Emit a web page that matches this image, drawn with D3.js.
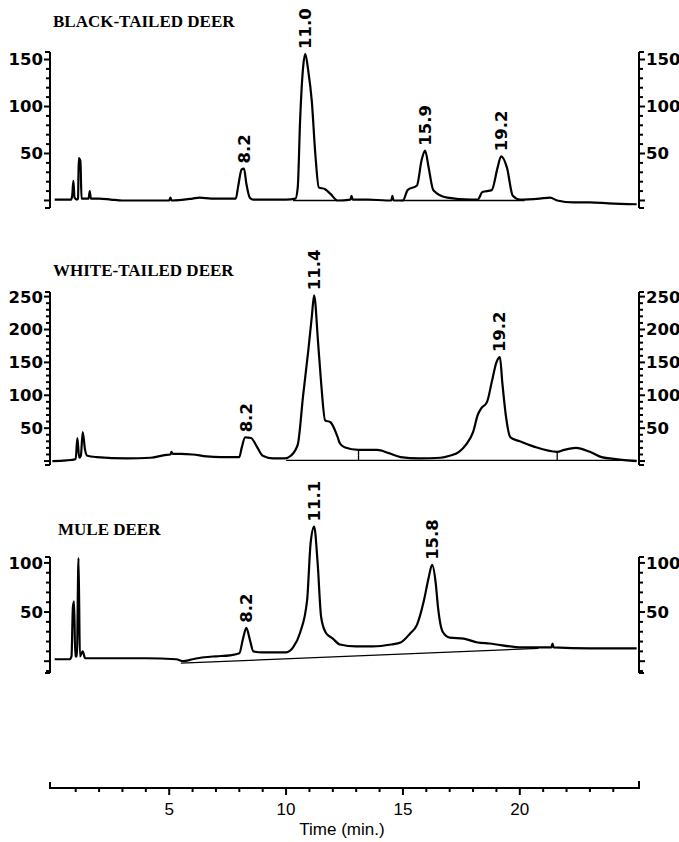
<!DOCTYPE html>
<html lang="en">
<head>
  <meta charset="UTF-8" />
  <title>Deer chromatograms</title>
  <script src="https://d3js.org/d3.v7.min.js"></script>
  <style>
    body {
      margin: 0;
      padding: 0;
      background: white;
    }

    .trace {
      fill: none;
      stroke: black;
      stroke-width: 2.2px;
      stroke-linejoin: round;
    }

    .base-line {
      fill: none;
      stroke: black;
      stroke-width: 1.3px;
    }

    .axis-line, .tick-mark {
      stroke: black;
      stroke-width: 2px;
      fill: none;
    }

    .panel-title {
      font-family: "Liberation Serif", "Times New Roman", serif;
      font-weight: bold;
      font-size: 17px;
    }

    .y-label, .peak-label {
      font-family: "DejaVu Sans", sans-serif;
      font-weight: bold;
      font-size: 16.5px;
    }

    .x-label {
      font-family: "Liberation Sans", Arial, sans-serif;
      font-size: 17px;
    }
  </style>
</head>
<body>
  <svg id="chart" width="679" height="842"></svg>

  <script>
    // time axis
    const timeMajor = [5, 10, 15, 20];
    const timeMinor = d3.range(1, 25);

    // BLACK-TAILED DEER
    const btTime = [0.1, 0.8, 0.85, 0.9, 0.95, 1.05, 1.1, 1.13, 1.2, 1.25, 1.55, 1.6, 1.65, 2.0, 2.5, 3.0,
      5.0, 5.05, 5.1, 6.0, 6.3, 6.8, 7.5, 7.85, 7.95, 8.1, 8.2, 8.3, 8.45, 8.6, 9.0, 10.0, 10.4,
      10.5, 10.6, 10.73, 10.82, 10.95, 11.1, 11.25, 11.4, 11.67, 11.9, 12.2, 12.75, 12.8, 12.85,
      13.5, 14.3, 14.5, 14.55, 14.6, 15.0, 15.2, 15.6, 15.8, 15.95, 16.1, 16.3, 16.9, 17.9, 18.2,
      18.4, 18.8, 19.05, 19.2, 19.45, 19.7, 20.0, 20.85, 21.3, 21.6, 22.3, 23.0, 23.8, 25.0];
    const btSignal = [1, 1, 5, 21, 3, 1, 2, 45, 42, 2, 2, 10, 2, 2, 1, 0,
      0, 3, 0, 2, 3, 2, 2, 2, 15, 33, 34, 18, 3, 1, 1, 1, 2,
      14, 85, 142, 156, 138, 106, 50, 14, 12, 7, 0, 1, 5, 1,
      1, 0, 0, 5, 0, 0, 11, 16, 43, 53, 35, 11, 3, 1, 1,
      9, 11, 35, 47, 35, 5, 1, 2, 3, 0, -2, -2, -3, -4];
    const btBaseStart = [10.3, 14.9];
    const btBaseEnd = [12.2, 20.2];
    const btBaseValue = [0, 0];
    const btPeakTime = [8.2, 10.82, 15.95, 19.2];
    const btPeakValue = [34, 156, 53, 47];
    const btPeakLabel = ["8.2", "11.0", "15.9", "19.2"];
    const btYLabels = [50, 100, 150];

    // WHITE-TAILED DEER
    const wtTime = [0.0, 0.6, 1.0, 1.07, 1.15, 1.22, 1.3, 1.4, 1.5, 1.9, 3.2, 4.2, 4.8, 5.05, 5.1, 5.15, 5.5,
      6.0, 6.6, 7.2, 8.0, 8.1, 8.25, 8.5, 8.75, 9.0, 9.45, 9.95, 10.2, 10.5, 10.73, 10.95, 11.1,
      11.2, 11.37, 11.5, 11.67, 11.9, 12.2, 12.3, 12.5, 13.1, 13.9, 14.4, 14.9, 15.7, 16.6, 17.0,
      17.4, 17.7, 18.0, 18.2, 18.35, 18.6, 18.8, 19.0, 19.15, 19.25, 19.4, 19.6, 20.0, 20.6, 21.6,
      21.9, 22.4, 23.0, 23.5, 24.1, 25.0];
    const wtSignal = [0, 1, 3, 35, 5, 8, 44, 17, 8, 6, 4, 5, 9, 10, 14, 11, 11,
      10, 7, 6, 6, 20, 36, 35, 22, 8, 4, 4, 8, 25, 100, 168, 219,
      252, 180, 119, 62, 59, 37, 27, 21, 17, 17, 12, 6, 4, 5, 8,
      14, 25, 44, 70, 80, 90, 120, 150, 158, 120, 70, 36, 30, 22, 14,
      17, 20, 14, 6, 3, 0];
    const wtBaseStart = [10.0];
    const wtBaseEnd = [25.0];
    const wtBaseValue = [1];
    const wtDropTime = [13.1, 21.6];
    const wtPeakTime = [8.3, 11.2, 19.1];
    const wtPeakValue = [36, 252, 158];
    const wtPeakLabel = ["8.2", "11.4", "19.2"];
    const wtYLabels = [50, 100, 150, 200, 250];

    // MULE DEER
    const mdTime = [0.1, 0.75, 0.82, 0.88, 0.93, 0.98, 1.05, 1.12, 1.18, 1.3, 1.4, 2.0, 4.0, 5.3, 5.6,
      6.0, 6.5, 7.0, 7.6, 8.0, 8.15, 8.3, 8.45, 8.6, 9.0, 9.5, 10.0, 10.3, 10.6, 10.9, 11.05,
      11.2, 11.35, 11.5, 11.7, 12.0, 12.3, 13.0, 13.7, 14.5, 14.9, 15.3, 15.6, 15.9, 16.1, 16.25,
      16.4, 16.5, 16.7, 17.0, 17.6, 18.2, 18.7, 20.1, 21.35, 21.4, 21.45, 23.0, 25.0];
    const mdSignal = [2, 2, 5, 55, 61, 5, 5, 105, 5, 10, 3, 3, 3, 2, 0,
      2, 4, 5, 6, 8, 22, 34, 22, 10, 9, 9, 9, 14, 29, 62, 120,
      137, 100, 45, 29, 23, 17, 15, 15, 17, 19, 28, 37, 62, 85, 98,
      80, 55, 30, 24, 23, 19, 18, 14, 14, 18, 14, 13, 13];
    const mdBaseStart = [5.5];
    const mdBaseEnd = [20.8];
    const mdBaseStartValue = [-2];
    const mdBaseEndValue = [13];
    const mdPeakTime = [8.3, 11.2, 16.25];
    const mdPeakValue = [34, 137, 98];
    const mdPeakLabel = ["8.2", "11.1", "15.8"];
    const mdYLabels = [50, 100];

    const svg = d3.select("#chart");

    const x = d3.scaleLinear().domain([-0.1, 25.1]).range([50, 639]);

    // panels, built from the arrays above
    const panels = [
      {
        title: "BLACK-TAILED DEER", titleX: 53, titleY: 27,
        yDomain: [-8, 158], yRange: [208, 52],
        time: btTime, signal: btSignal,
        bases: btBaseStart.map((s, i) => [[s, btBaseValue[i]], [btBaseEnd[i], btBaseValue[i]]]),
        drops: [],
        peaks: btPeakTime.map((t, i) => ({ t, v: btPeakValue[i], label: btPeakLabel[i] })),
        labels: btYLabels
      },
      {
        title: "WHITE-TAILED DEER", titleX: 53, titleY: 276,
        yDomain: [-6, 257], yRange: [465, 292],
        time: wtTime, signal: wtSignal,
        bases: wtBaseStart.map((s, i) => [[s, wtBaseValue[i]], [wtBaseEnd[i], wtBaseValue[i]]]),
        drops: wtDropTime,
        peaks: wtPeakTime.map((t, i) => ({ t, v: wtPeakValue[i], label: wtPeakLabel[i] })),
        labels: wtYLabels
      },
      {
        title: "MULE DEER", titleX: 58, titleY: 535,
        yDomain: [-12, 106], yRange: [673, 557],
        time: mdTime, signal: mdSignal,
        bases: mdBaseStart.map((s, i) => [[s, mdBaseStartValue[i]], [mdBaseEnd[i], mdBaseEndValue[i]]]),
        drops: [],
        peaks: mdPeakTime.map((t, i) => ({ t, v: mdPeakValue[i], label: mdPeakLabel[i] })),
        labels: mdYLabels
      }
    ];

    panels.forEach(p => {
      const y = d3.scaleLinear().domain(p.yDomain).range(p.yRange);
      const g = svg.append("g");
      const xl = x.range()[0], xr = x.range()[1];

      g.append("text")
        .attr("class", "panel-title")
        .attr("x", p.titleX)
        .attr("y", p.titleY)
        .text(p.title);

      // y axes on both sides
      const tickVals = d3.range(-10, p.yDomain[1] + 1, 10).filter(v => v >= p.yDomain[0]);
      [{ x0: xl, dir: -1 }, { x0: xr, dir: 1 }].forEach(side => {
        g.append("line")
          .attr("class", "axis-line")
          .attr("x1", side.x0).attr("x2", side.x0)
          .attr("y1", y(p.yDomain[1])).attr("y2", y(p.yDomain[0]));

        g.selectAll(null)
          .data(tickVals)
          .join("line")
          .attr("class", "tick-mark")
          .attr("x1", side.x0)
          .attr("x2", d => side.x0 + side.dir * (d % 50 === 0 ? 6 : 4))
          .attr("y1", d => y(d))
          .attr("y2", d => y(d));

        // hooks at the ends
        [p.yDomain[0], p.yDomain[1]].forEach(v => {
          g.append("line")
            .attr("class", "tick-mark")
            .attr("x1", side.x0).attr("x2", side.x0 + side.dir * 5)
            .attr("y1", y(v)).attr("y2", y(v));
        });

        g.selectAll(null)
          .data(p.labels)
          .join("text")
          .attr("class", "y-label")
          .attr("x", side.x0 + side.dir * 7)
          .attr("y", d => y(d))
          .attr("dy", "0.36em")
          .attr("text-anchor", side.dir < 0 ? "end" : "start")
          .text(d => d);
      });

      // integration baselines
      g.selectAll(null)
        .data(p.bases)
        .join("path")
        .attr("class", "base-line")
        .attr("d", d3.line().x(d => x(d[0])).y(d => y(d[1])));

      g.selectAll(null)
        .data(p.drops)
        .join("line")
        .attr("class", "base-line")
        .attr("x1", d => x(d)).attr("x2", d => x(d))
        .attr("y1", d => y(p.signal[p.time.indexOf(d)]))
        .attr("y2", y(1));

      const pts = p.time.map((t, i) => [t, p.signal[i]]);
      g.append("path")
        .attr("class", "trace")
        .attr("d", d3.line().curve(d3.curveMonotoneX).x(d => x(d[0])).y(d => y(d[1]))(pts));

      g.selectAll(null)
        .data(p.peaks)
        .join("text")
        .attr("class", "peak-label")
        .attr("transform", d => `translate(${x(d.t)},${y(d.v) - 5}) rotate(-90)`)
        .attr("dy", "0.36em")
        .text(d => d.label);
    });

    // bottom time axis
    const axisY = 788;
    svg.append("path")
      .attr("class", "axis-line")
      .attr("d", `M${x.range()[0]},${axisY - 6}V${axisY}H${x.range()[1]}V${axisY - 7}`);

    svg.selectAll(".time-tick")
      .data(timeMinor)
      .join("line")
      .attr("class", "tick-mark time-tick")
      .attr("x1", d => x(d)).attr("x2", d => x(d))
      .attr("y1", axisY)
      .attr("y2", d => axisY + (d % 5 === 0 ? 7 : 4));

    svg.selectAll(".x-label")
      .data(timeMajor)
      .join("text")
      .attr("class", "x-label")
      .attr("x", d => x(d))
      .attr("y", 815)
      .attr("text-anchor", "middle")
      .text(d => d);

    svg.append("text")
      .attr("class", "x-label")
      .attr("x", 342)
      .attr("y", 835)
      .attr("text-anchor", "middle")
      .text("Time (min.)");
  </script>
</body>
</html>
